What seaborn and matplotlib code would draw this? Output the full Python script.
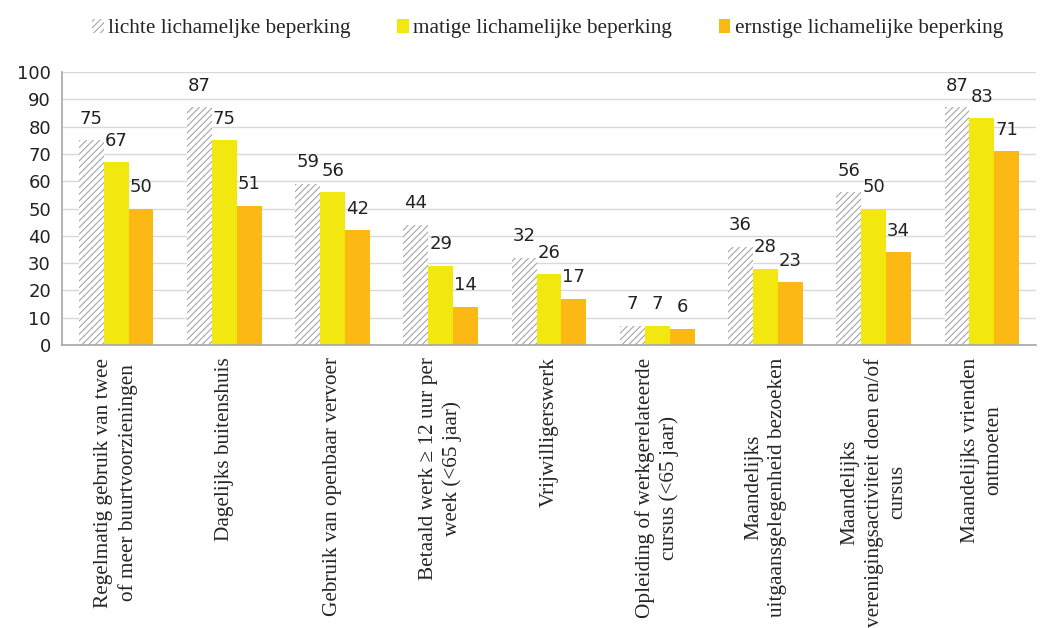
import matplotlib.pyplot as plt
import seaborn as sns
import pandas as pd
from matplotlib.patches import Patch

# Categories (x axis)
categories = [
    'Regelmatig gebruik van twee\nof meer buurtvoorzieningen',
    'Dagelijks buitenshuis',
    'Gebruik van openbaar vervoer',
    'Betaald werk \u2265 12 uur per\nweek (<65 jaar)',
    'Vrijwilligerswerk',
    'Opleiding of werkgerelateerde\ncursus (<65 jaar)',
    'Maandelijks\nuitgaansgelegenheid bezoeken',
    'Maandelijks\nverenigingsactiviteit doen en/of\ncursus',
    'Maandelijks vrienden\nontmoeten',
]

# Series
groups = ['lichte lichameljke beperking', 'matige lichamelijke beperking',
          'ernstige lichamelijke beperking']
licht = [75, 87, 59, 44, 32, 7, 36, 56, 87]
matig = [67, 75, 56, 29, 26, 7, 28, 50, 83]
ernstig = [50, 51, 42, 14, 17, 6, 23, 34, 71]

colors = ['white', '#F2E70F', '#FDB913']

rows = []
for g, vals in zip(groups, [licht, matig, ernstig]):
    for c, v in zip(categories, vals):
        rows.append({'cat': c, 'groep': g, 'waarde': v})
df = pd.DataFrame(rows)

sns.set_style('white')
plt.rcParams['hatch.linewidth'] = 0.8

fig, ax = plt.subplots(figsize=(10.57, 6.28), dpi=100)
fig.subplots_adjust(left=62 / 1057, right=1036 / 1057, top=1 - 72 / 628, bottom=1 - 345 / 628)

sns.barplot(data=df, x='cat', y='waarde', hue='groep', order=categories,
            hue_order=groups, palette=colors, width=0.69, linewidth=0,
            saturation=1, legend=False, ax=ax)

# hatch the first series
for bar in ax.containers[0]:
    bar.set_facecolor('white')
    bar.set_hatch('/////')
    bar.set_edgecolor('#a6a6a6')
    bar.set_linewidth(0)

# data labels
for cont in ax.containers:
    ax.bar_label(cont, fmt='%d', padding=9, fontsize=13, family='DejaVu Sans',
                 color='#222222')

ax.set_ylim(0, 100)
ax.set_yticks(range(0, 101, 10))
ax.tick_params(axis='y', labelsize=13, length=0, pad=8, labelcolor='#222222')
for t in ax.get_yticklabels():
    t.set_family('DejaVu Sans')
ax.tick_params(axis='x', length=0, pad=9)
ax.set_xticks(range(len(categories)))
ax.set_xticklabels(categories, rotation=90, ha='center', va='top',
                   multialignment='center', family='Liberation Serif', fontsize=15.3,
                   linespacing=1.3)
ax.set_xlabel('')
ax.set_ylabel('')
ax.yaxis.grid(True, color='#d9d9d9', linewidth=1)
ax.set_axisbelow(True)
for s in ['top', 'right']:
    ax.spines[s].set_visible(False)
for s in ['left', 'bottom']:
    ax.spines[s].set_color('#a6a6a6')
    ax.spines[s].set_linewidth(1.2)

handles = [
    Patch(facecolor='white', hatch='/////', edgecolor='#a6a6a6', linewidth=0),
    Patch(facecolor=colors[1], linewidth=0),
    Patch(facecolor=colors[2], linewidth=0),
]
fig.legend(handles, groups, loc='upper center', bbox_to_anchor=(0.518, 1.0),
           ncol=3, frameon=False, prop={'family': 'Liberation Serif', 'size': 15.3},
           handlelength=0.55, handleheight=0.6, handletextpad=0.2, columnspacing=2.2)

fig.savefig('out.png', dpi=100)
